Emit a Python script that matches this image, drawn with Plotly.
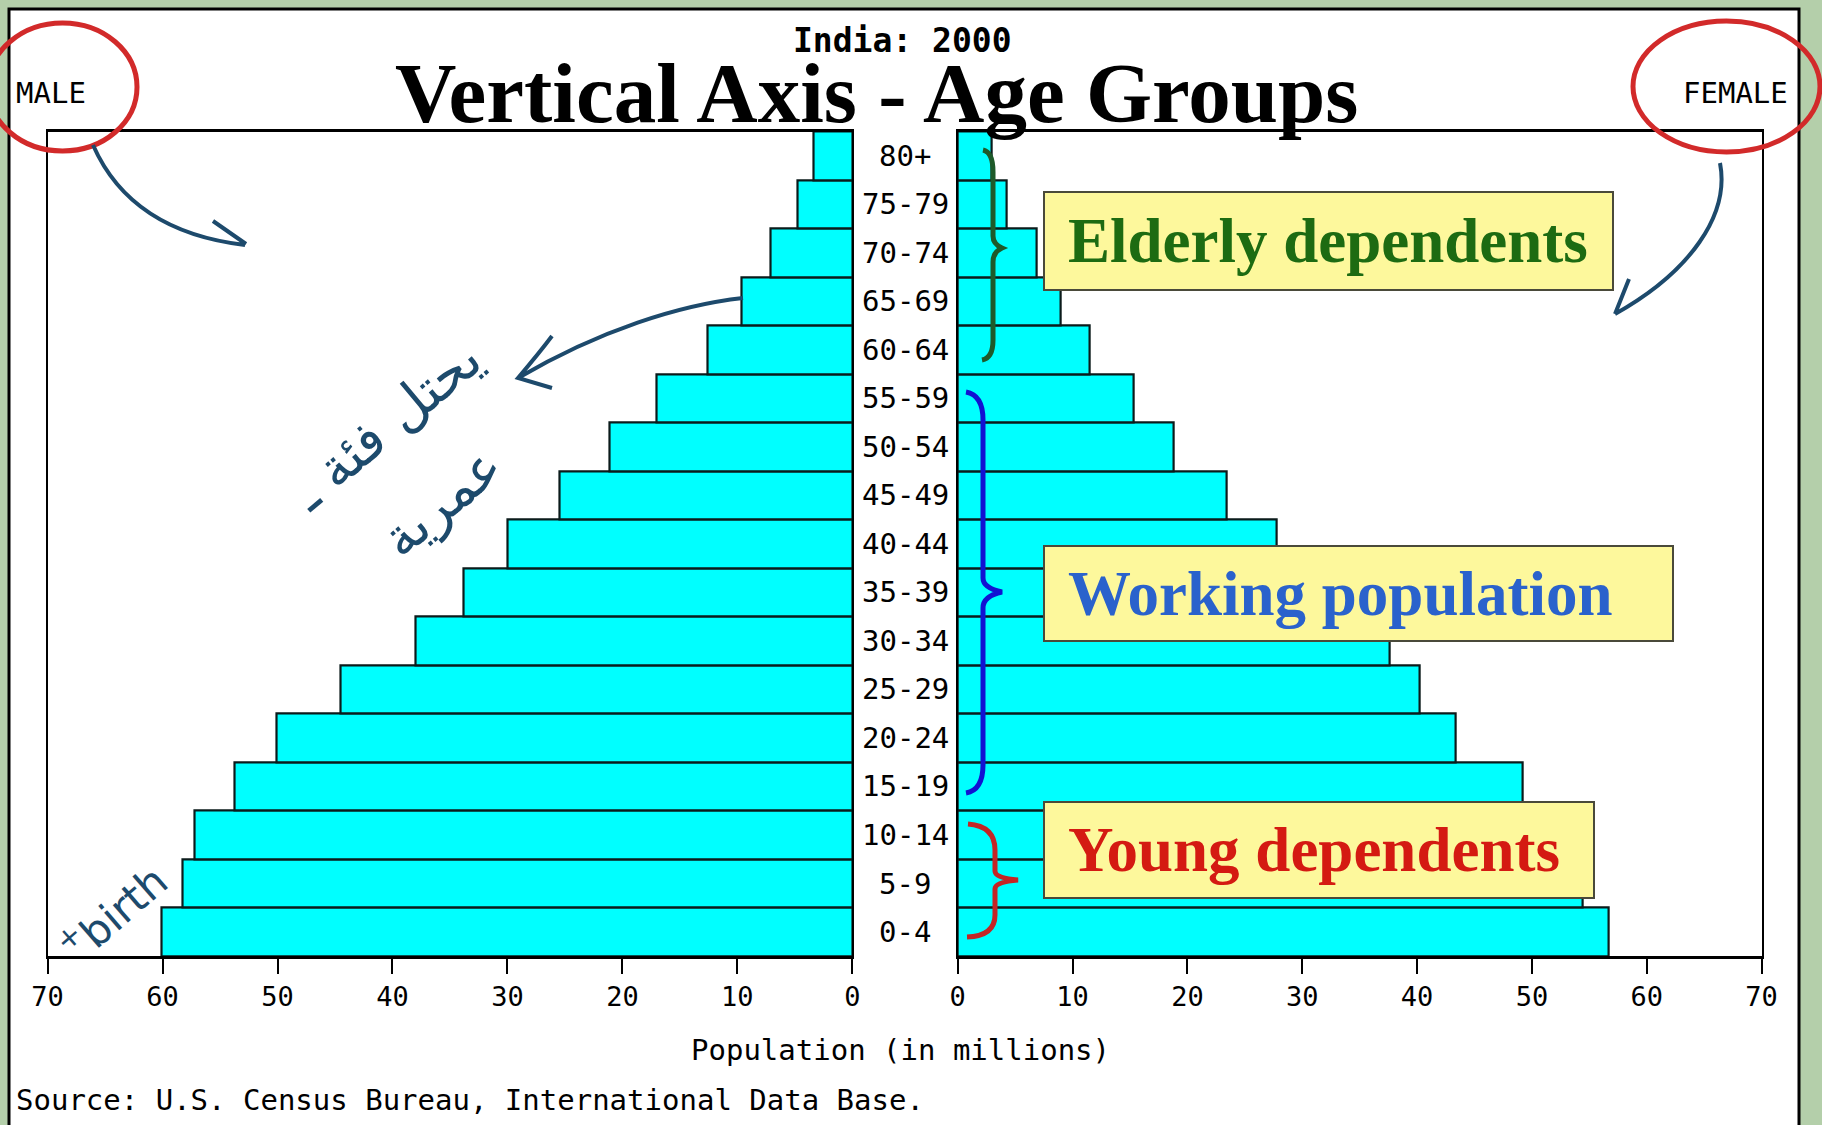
import plotly.graph_objects as go

# ---------------- data ----------------
age_groups = ["0-4", "5-9", "10-14", "15-19", "20-24", "25-29", "30-34", "35-39",
              "40-44", "45-49", "50-54", "55-59", "60-64", "65-69", "70-74", "75-79", "80+"]
male = [60.1, 58.3, 57.2, 53.7, 50.1, 44.5, 38.0, 33.8, 30.0, 25.5, 21.1, 17.0,
        12.6, 9.6, 7.1, 4.75, 3.4]
female = [56.7, 54.4, 53.0, 49.2, 43.4, 40.2, 37.6, 32.7, 27.8, 23.4, 18.8, 15.3,
          11.5, 9.0, 6.9, 4.3, 3.0]
tick_values = [0, 10, 20, 30, 40, 50, 60, 70]
tick_labels = [str(v) for v in tick_values]

W, H = 1822, 1125


def px(x):
    return x / W


def py(y):
    return 1 - y / H


def P(segs):
    out = []
    for cmd, pts in segs:
        out.append(cmd + " " + " ".join(f"{px(x):.5f},{py(y):.5f}" for x, y in pts))
    return " ".join(out)


MONO = "DejaVu Sans Mono"
SERIF = "Liberation Serif"
INK = "#1d4a6c"

fig = go.Figure()
fig.add_trace(go.Bar(y=age_groups, x=male, orientation="h", xaxis="x", yaxis="y",
                     marker=dict(color="#00ffff", line=dict(color="#0b1b1b", width=2.2)),
                     name="Male", hoverinfo="x+y"))
fig.add_trace(go.Bar(y=age_groups, x=female, orientation="h", xaxis="x2", yaxis="y2",
                     marker=dict(color="#00ffff", line=dict(color="#0b1b1b", width=2.2)),
                     name="Female", hoverinfo="x+y"))

axis_common = dict(tickvals=tick_values, ticktext=tick_labels, ticks="outside", ticklen=15,
                   tickwidth=2, tickcolor="black", showline=True, linecolor="black",
                   linewidth=2.5, mirror=True, showgrid=False, zeroline=False, automargin=False,
                   tickfont=dict(family=MONO, size=27, color="black"), fixedrange=True)
yaxis_common = dict(domain=[py(956.3), py(131.5)], range=[-0.5, 16.5], showticklabels=False,
                    showline=True, linecolor="black", linewidth=2, mirror=True, automargin=False,
                    showgrid=False, zeroline=False, ticks="", fixedrange=True,
                    categoryorder="array", categoryarray=age_groups)

fig.update_layout(
    width=W, height=H, margin=dict(l=0, r=0, t=0, b=0, pad=0, autoexpand=False),
    paper_bgcolor="#b4cfaa", plot_bgcolor="white", showlegend=False, bargap=0,
    xaxis=dict(domain=[px(47.6), px(852.3)], range=[70, 0], anchor="y", **axis_common),
    xaxis2=dict(domain=[px(957.7), px(1761.6)], range=[0, 70], anchor="y2", **axis_common),
    yaxis=dict(anchor="x", **yaxis_common),
    yaxis2=dict(anchor="x2", matches="y", **yaxis_common),
)

shapes = []
# white panel
shapes.append(dict(type="rect", xref="paper", yref="paper", x0=px(9), x1=px(1799), y0=py(1140), y1=py(9),
                   fillcolor="white", line=dict(color="black", width=3), layer="below"))
# yellow boxes
for (x0, y0, x1, y1) in [(1044, 192, 1613, 290), (1044, 546, 1673, 641), (1044, 802, 1594, 898)]:
    shapes.append(dict(type="rect", xref="paper", yref="paper", x0=px(x0), x1=px(x1), y0=py(y1), y1=py(y0),
                       fillcolor="#fdf89c", line=dict(color="#4a4a3a", width=2), layer="above"))
# braces
shapes.append(dict(type="path", xref="paper", yref="paper", layer="above",
                   line=dict(color="#1e5a2a", width=5),
                   path=P([("M", [(983, 150)]), ("Q", [(993, 152), (993, 172)]), ("L", [(993, 236)]),
                           ("Q", [(993, 244), (1002, 248)]), ("Q", [(993, 252), (993, 262)]),
                           ("L", [(993, 340)]), ("Q", [(993, 358), (982, 360)])])))
shapes.append(dict(type="path", xref="paper", yref="paper", layer="above",
                   line=dict(color="#1212d2", width=5),
                   path=P([("M", [(966, 392)]), ("Q", [(983, 395), (983, 420)]), ("L", [(983, 578)]),
                           ("Q", [(983, 588), (1002, 592)]), ("Q", [(983, 596), (983, 608)]),
                           ("L", [(983, 765)]), ("Q", [(983, 790), (966, 793)])])))
shapes.append(dict(type="path", xref="paper", yref="paper", layer="above",
                   line=dict(color="#c42525", width=5),
                   path=P([("M", [(968, 824)]), ("Q", [(995, 826), (995, 850)]), ("L", [(995, 871)]),
                           ("Q", [(995, 878), (1018, 880)]), ("Q", [(995, 882), (995, 889)]),
                           ("L", [(995, 915)]), ("Q", [(995, 936), (967, 937)])])))
# red ellipses
shapes.append(dict(type="circle", xref="paper", yref="paper", x0=px(-12), x1=px(137), y0=py(151), y1=py(23),
                   line=dict(color="#d22a2a", width=5), layer="above"))
shapes.append(dict(type="circle", xref="paper", yref="paper", x0=px(1633), x1=px(1820), y0=py(152), y1=py(21),
                   line=dict(color="#d22a2a", width=5), layer="above"))
# hand-drawn arrows
arrow_line = dict(color=INK, width=4)
shapes.append(dict(type="path", xref="paper", yref="paper", layer="above", line=arrow_line,
                   path=P([("M", [(93, 145)]), ("C", [(115, 195), (160, 235), (245, 245)]),
                           ("M", [(213, 221)]), ("L", [(246, 244), (215, 265)])])))
shapes.append(dict(type="path", xref="paper", yref="paper", layer="above", line=arrow_line,
                   path=P([("M", [(1720, 163)]), ("C", [(1730, 215), (1690, 272), (1615, 314)]),
                           ("M", [(1629, 279)]), ("L", [(1615, 314), (1670, 323)])])))
shapes.append(dict(type="path", xref="paper", yref="paper", layer="above", line=arrow_line,
                   path=P([("M", [(743, 298)]), ("C", [(680, 305), (600, 330), (518, 378)]),
                           ("M", [(552, 336)]), ("Q", [(540, 352), (518, 378)]), ("L", [(552, 388)])])))
fig.update_layout(shapes=shapes)

ann = []
for g in age_groups:
    ann.append(dict(x=px(905), xref="paper", y=g, yref="y", text=g, showarrow=False,
                    xanchor="center", yanchor="middle", font=dict(family=MONO, size=29, color="black")))
ann += [
    dict(x=px(902), y=py(40), text="India: 2000", font=dict(family=MONO, size=33, color="black", weight="bold")),
    dict(x=px(876), y=py(93), text="Vertical Axis - Age Groups",
         font=dict(family=SERIF, size=85, color="black", weight="bold")),
    dict(x=px(14), y=py(93), text="MALE", xanchor="left", font=dict(family=MONO, size=29, color="black")),
    dict(x=px(1790), y=py(93), text="FEMALE", xanchor="right", font=dict(family=MONO, size=29, color="black")),
    dict(x=px(900), y=py(1050), text="Population (in millions)", font=dict(family=MONO, size=29, color="black")),
    dict(x=px(14), y=py(1100), text="Source: U.S. Census Bureau, International Data Base.", xanchor="left",
         font=dict(family=MONO, size=29, color="black")),
    dict(x=px(1066), y=py(241), text="Elderly dependents", xanchor="left",
         font=dict(family=SERIF, size=63, color="#1d6b12", weight="bold")),
    dict(x=px(1066), y=py(594), text="Working population", xanchor="left",
         font=dict(family=SERIF, size=63, color="#2a62cc", weight="bold")),
    dict(x=px(1066), y=py(850), text="Young dependents", xanchor="left",
         font=dict(family=SERIF, size=63, color="#d41a12", weight="bold")),
    dict(x=px(385), y=py(425), text="يحتل فئة ـ", textangle=-40,
         font=dict(family="DejaVu Sans", size=54, color=INK)),
    dict(x=px(441), y=py(502), text="عمرية", textangle=-40,
         font=dict(family="DejaVu Sans", size=54, color=INK)),
    dict(x=px(112), y=py(913), text="<sup>+</sup>birth", textangle=-41,
         font=dict(family="DejaVu Sans", size=42, color=INK)),
]
for a in ann[len(age_groups):]:
    a.setdefault("xref", "paper")
    a.setdefault("yref", "paper")
    a.setdefault("showarrow", False)
    a.setdefault("xanchor", "center")
    a.setdefault("yanchor", "middle")
fig.update_layout(annotations=ann)

fig.write_html("out.html", config={"displayModeBar": False},
               post_script="document.body.style.margin='0';document.body.style.overflow='hidden';")
